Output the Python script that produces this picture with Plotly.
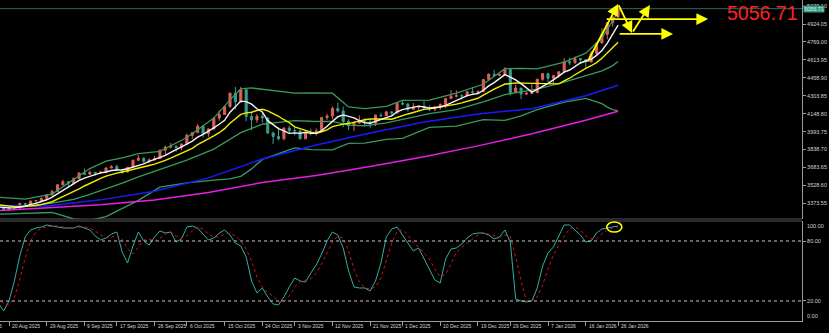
import numpy as np
import plotly.graph_objects as go

# ---------------- data ----------------
first_bar = "2025-08-18"          # first daily bar on the chart (partly off-screen)

opens = [3336,3332,3316,3348,3339,3372,3366,3393,3397,3416,
         3448,3476,3533,3560,3545,3587,3636,3625,3641,3634,
         3643,3679,3690,3660,3644,3685,3746,3763,3736,3749,
         3760,3833,3859,3866,3856,3886,3961,3985,4040,3976,
         4017,4110,4142,4209,4326,4251,4356,4125,4095,4126,
         4112,3982,3951,3931,4024,4002,4000,3931,3981,3977,
         4000,4115,4128,4194,4172,4081,4045,4067,4078,4077,
         4065,4135,4131,4164,4155,4239,4232,4186,4205,4208,
         4198,4188,4207,4228,4279,4300,4304,4302,4338,4332,
         4339,4444,4490,4480,4486,4532,4332,4370,4318,4325,
         4330,4446,4495,4455,4478,4510,4598,4588,4625,4615,
         4595,4670,4760,4835,4935,4985]
highs = [3359,3345,3351,3351,3379,3376,3394,3398,3423,3454,
         3490,3540,3578,3563,3600,3640,3674,3658,3645,3655,
         3685,3703,3707,3665,3687,3750,3791,3770,3761,3783,
         3835,3872,3895,3875,3889,3977,3990,4059,4045,4022,
         4117,4179,4218,4330,4380,4381,4358,4161,4146,4162,
         4117,3993,4030,4030,4045,4030,4004,3991,4020,4020,
         4120,4148,4212,4245,4211,4100,4082,4133,4110,4098,
         4141,4156,4174,4168,4241,4264,4240,4241,4218,4259,
         4219,4218,4238,4286,4353,4350,4317,4345,4375,4350,
         4448,4497,4526,4493,4550,4535,4398,4372,4335,4402,
         4451,4500,4501,4481,4518,4630,4634,4643,4628,4622,
         4690,4766,4888,4940,4990,5092]
lows = [3323,3311,3312,3325,3321,3351,3351,3376,3385,3408,
        3436,3470,3527,3511,3536,3580,3620,3620,3614,3633,
        3633,3675,3655,3628,3640,3683,3737,3718,3722,3741,
        3758,3793,3847,3820,3834,3884,3931,3984,3944,3947,
        4005,4086,4138,4202,4185,4242,4082,4004,4070,4073,
        3971,3886,3918,3918,3975,3961,3928,3930,3962,3960,
        3995,4095,4098,4157,4032,4005,3997,4060,4038,4022,
        4041,4120,4130,4137,4150,4221,4167,4185,4176,4193,
        4170,4170,4180,4196,4276,4288,4270,4300,4309,4320,
        4336,4432,4466,4474,4478,4305,4330,4275,4310,4316,
        4328,4432,4422,4408,4460,4508,4570,4580,4580,4538,
        4595,4660,4760,4792,4900,4975]
closes = [3332,3316,3348,3339,3372,3366,3393,3397,3416,3448,
          3476,3533,3560,3545,3587,3636,3625,3641,3634,3643,
          3679,3690,3660,3644,3685,3746,3763,3736,3749,3760,
          3833,3859,3866,3856,3886,3961,3985,4040,3976,4017,
          4110,4142,4209,4326,4251,4356,4125,4095,4126,4112,
          3982,3951,3931,4024,4002,4000,3931,3981,3977,4000,
          4115,4128,4194,4172,4081,4045,4067,4078,4077,4065,
          4135,4131,4164,4155,4239,4232,4186,4205,4208,4198,
          4188,4207,4228,4279,4300,4304,4302,4338,4332,4339,
          4444,4490,4480,4486,4532,4332,4370,4318,4325,4330,
          4446,4495,4455,4478,4510,4598,4588,4625,4615,4595,
          4670,4760,4835,4935,4985,5056.71]

# fast moving average (white)
ma_fast = [3342,3335,3334,3334,3341,3348,3364,3373,3389,3404,
           3426,3454,3487,3512,3540,3572,3591,3607,3625,3636,
           3644,3657,3661,3663,3672,3685,3700,3715,3736,3751,
           3768,3787,3813,3835,3860,3886,3911,3946,3970,3996,
           4026,4057,4091,4161,4208,4257,4253,4231,4191,4163,
           4088,4053,4020,4000,3978,3982,3978,3988,3978,3978,
           4001,4040,4083,4122,4138,4124,4112,4089,4070,4066,
           4084,4097,4114,4130,4165,4184,4195,4203,4214,4206,
           4197,4201,4206,4220,4240,4264,4283,4305,4315,4323,
           4351,4389,4417,4448,4486,4464,4440,4408,4375,4335,
           4358,4383,4410,4441,4477,4507,4526,4560,4587,4604,
           4619,4653,4695,4759,4837,4914]
# slower moving average (yellow)
ma_slow = [3360,3353,3351,3345,3343,3345,3350,3354,3362,3373,
           3387,3409,3430,3451,3472,3499,3523,3547,3569,3588,
           3608,3624,3634,3644,3654,3665,3679,3688,3700,3712,
           3727,3744,3764,3786,3806,3827,3849,3880,3903,3928,
           3956,3984,4019,4066,4102,4142,4155,4161,4176,4186,
           4173,4153,4126,4096,4071,4035,4016,4004,3989,3978,
           3992,4009,4036,4050,4058,4063,4076,4086,4096,4102,
           4104,4105,4102,4100,4116,4134,4146,4159,4172,4186,
           4191,4198,4205,4217,4223,4231,4242,4256,4268,4282,
           4308,4336,4361,4382,4405,4408,4415,4413,4412,4411,
           4411,4412,4409,4408,4406,4433,4455,4485,4514,4541,
           4563,4590,4628,4673,4721,4767]

# Bollinger bands (green), read at these dates
bb_dates = ["2025-08-18","2025-08-25","2025-09-01","2025-09-05","2025-09-10",
            "2025-09-15","2025-09-18","2025-09-23","2025-09-29","2025-10-06",
            "2025-10-13","2025-10-16","2025-10-20","2025-10-22","2025-10-24",
            "2025-10-29","2025-11-03","2025-11-06","2025-11-12","2025-11-17",
            "2025-11-20","2025-11-26","2025-12-01","2025-12-08","2025-12-15",
            "2025-12-22","2025-12-26","2025-12-31","2026-01-05","2026-01-12",
            "2026-01-16","2026-01-21","2026-01-22","2026-01-23","2026-01-26"]
bb_mid = [3353,3348,3374,3408,3451,3498,3548,3601,3668,3746,3842,3926,3985,4021,4057,
          4073,4089,4083,4081,4049,4043,4069,4099,4148,4183,4250,4314,4335,4360,4421,
          4476,4519,4541,4564,4600]
bb_upper = [3426,3410,3453,3576,3674,3738,3767,3803,3823,3942,4110,4268,4363,4371,4361,
            4344,4326,4329,4326,4207,4193,4211,4263,4266,4326,4403,4538,4540,4536,4594,
            4672,4803,4877,4944,5028]
bb_lower = [3280,3286,3294,3238,3226,3258,3327,3399,3513,3550,3574,3584,3607,3671,3753,
            3802,3852,3837,3836,3891,3893,3927,3935,4030,4040,4097,4090,4130,4184,4248,
            4280,4235,4205,4184,4172]

# long moving averages (blue, magenta)
long_ma_dates = ["2025-08-18","2025-08-29","2025-09-12","2025-09-26","2025-10-10",
                 "2025-10-24","2025-11-07","2025-11-21","2025-12-05","2025-12-19",
                 "2026-01-02","2026-01-16","2026-01-26"]
ma_blue = [3350,3351,3403,3477,3593,3757,3878,3981,4076,4146,4192,4304,4394]
ma_magenta = [3310,3334,3360,3402,3467,3553,3614,3691,3776,3870,3974,4091,4170]

# stochastic oscillator
stoch_k = [18,10,20,40,65,84,91,93,94,96,
           95,94,93,93,93,95,93,91,85,81,
           83,87,89,69,58,75,89,80,76,84,
           90,88,89,79,82,94,95,93,87,81,
           83,88,91,86,78,75,64,40,28,33,
           24,17,16,24,34,43,40,39,48,56,
           67,80,89,86,73,50,34,33,33,30,
           40,58,84,92,94,86,79,70,73,62,
           52,41,38,62,72,73,77,83,87,88,
           88,86,82,84,91,79,22,20,19,20,
           33,55,68,74,85,96,96,91,86,79,
           80,88,92,93,94,95]
stoch_d = [25,17,16,23,42,63,80,89,93,94,
           95,95,94,93,93,94,94,93,90,86,
           83,84,86,82,72,67,74,81,82,80,
           83,87,89,85,83,85,90,94,92,87,
           84,84,87,88,85,80,72,60,44,34,
           28,25,19,19,25,34,39,41,42,48,
           57,68,79,85,83,70,52,39,33,32,
           34,43,61,78,90,91,86,78,74,68,
           62,52,44,47,57,69,74,78,82,86,
           88,87,85,84,86,85,64,40,20,20,
           24,36,52,66,76,85,92,94,91,85,
           82,82,87,91,93,94]
stoch_levels = [80, 20]

price_ticks = [5079.10, 4924.05, 4769.00, 4613.95, 4458.90, 4303.85, 4148.80,
               3993.75, 3838.70, 3683.65, 3528.60, 3373.55]
date_ticks = ["2025-08-11","2025-08-20","2025-08-29","2025-09-09","2025-09-17","2025-09-26",
              "2025-10-06","2025-10-15","2025-10-24","2025-11-03","2025-11-12","2025-11-21",
              "2025-12-01","2025-12-10","2025-12-19","2025-12-29","2026-01-07","2026-01-16",
              "2026-01-26"]
date_tick_labels = ["11 Aug 2025","20 Aug 2025","29 Aug 2025","9 Sep 2025","17 Sep 2025",
                    "26 Sep 2025","6 Oct 2025","15 Oct 2025","24 Oct 2025","3 Nov 2025",
                    "12 Nov 2025","21 Nov 2025","1 Dec 2025","10 Dec 2025","19 Dec 2025",
                    "29 Dec 2025","7 Jan 2026","16 Jan 2026","26 Jan 2026"]
last_price = 5056.71

# ---------------- helpers ----------------
def bar_of(d):
    return int(np.busday_count(first_bar, d))

bars = list(range(len(closes)))
X_RANGE = [0.33, 149.12]
Y_RANGE = [3237.7, 5131.6]

UP = "#e0605a"
DN = "#3a9e8c"
GREEN = "#3a9a5c"
AXC = "#9a9a9a"
TXT = "#d4d4d4"
FONT = "Liberation Sans"

fig = go.Figure()

fig.add_trace(go.Candlestick(
    x=bars, open=opens, high=highs, low=lows, close=closes,
    increasing=dict(line=dict(color=UP, width=1), fillcolor=UP),
    decreasing=dict(line=dict(color=DN, width=1), fillcolor=DN),
    whiskerwidth=0, xaxis="x", yaxis="y", hoverinfo="skip", showlegend=False))

bbx = [bar_of(d) for d in bb_dates]
for ys in (bb_upper, bb_mid, bb_lower):
    fig.add_trace(go.Scatter(x=bbx, y=ys, mode="lines", line=dict(color=GREEN, width=1.3),
                             xaxis="x", yaxis="y", hoverinfo="skip", showlegend=False))

lx = [bar_of(d) for d in long_ma_dates]
fig.add_trace(go.Scatter(x=lx, y=ma_blue, mode="lines", line=dict(color="#1a1aff", width=1.5),
                         xaxis="x", yaxis="y", hoverinfo="skip", showlegend=False))
fig.add_trace(go.Scatter(x=lx, y=ma_magenta, mode="lines", line=dict(color="#e61ee6", width=1.5),
                         xaxis="x", yaxis="y", hoverinfo="skip", showlegend=False))
fig.add_trace(go.Scatter(x=bars, y=ma_slow, mode="lines", line=dict(color="#f0f000", width=1.4),
                         xaxis="x", yaxis="y", hoverinfo="skip", showlegend=False))
fig.add_trace(go.Scatter(x=bars, y=ma_fast, mode="lines", line=dict(color="#f4f4f4", width=1.4),
                         xaxis="x", yaxis="y", hoverinfo="skip", showlegend=False))

fig.add_trace(go.Scatter(x=bars, y=stoch_k, mode="lines", line=dict(color="#2fb0a6", width=1),
                         xaxis="x", yaxis="y2", hoverinfo="skip", showlegend=False))
fig.add_trace(go.Scatter(x=bars, y=stoch_d, mode="lines",
                         line=dict(color="#e01010", width=1, dash="dot"),
                         xaxis="x", yaxis="y2", hoverinfo="skip", showlegend=False))

shapes = []
# bid line
shapes.append(dict(type="line", xref="paper", yref="y", x0=0, x1=1, y0=last_price, y1=last_price,
                   line=dict(color="#1f6e5c", width=1)))
# stochastic levels
for lv in stoch_levels:
    shapes.append(dict(type="line", xref="paper", yref="y2", x0=0, x1=1, y0=lv, y1=lv,
                       line=dict(color="#c8c8c8", width=1, dash="dot")))
# panel separator
for yy in (0.3178, 0.3115):
    shapes.append(dict(type="line", xref="paper", yref="paper", x0=0, x1=1, y0=yy, y1=yy,
                       line=dict(color="#555555", width=1)))
# yellow ellipse on the stochastic
shapes.append(dict(type="circle", xref="x", yref="y2", x0=112.9, x1=115.7, y0=89, y1=99,
                   line=dict(color="#ffff00", width=1.6)))

annotations = []
# yellow arrows (hand drawings)
arrows = [((109.2, 4587), (115.0, 5097)),
          ((115.0, 5097), (117.6, 4846)),
          ((117.6, 4846), (120.9, 5088)),
          ((112.6, 4967), (131.7, 4967)),
          ((115.0, 4838), (125.2, 4838))]
for (tx, ty), (hx, hy) in arrows:
    annotations.append(dict(x=hx, y=hy, ax=tx, ay=ty, xref="x", yref="y", axref="x", ayref="y",
                            text="", showarrow=True, arrowhead=2, arrowsize=1.3, arrowwidth=1.8,
                            arrowcolor="#ffff00"))
# big red price text
annotations.append(dict(xref="paper", yref="paper", x=0.9975, y=0.9595, xanchor="right",
                        yanchor="middle", text=f"{last_price:.2f}", showarrow=False,
                        font=dict(family=FONT, size=19.5, color="#ff2020")))
# current price box on axis
annotations.append(dict(xref="paper", yref="y", x=1, y=last_price, xanchor="left", yanchor="middle",
                        xshift=1, text=f"{last_price:.2f}", showarrow=False, bgcolor="#2f9c84",
                        borderpad=0, font=dict(family=FONT, size=5.5, color="#e8e8e8")))
# stochastic 100 / 0 labels
annotations.append(dict(xref="paper", yref="y2", x=1, y=100, xanchor="left", yanchor="top",
                        xshift=3, text="100.00", showarrow=False,
                        font=dict(family=FONT, size=5.5, color=TXT)))
annotations.append(dict(xref="paper", yref="y2", x=1, y=0, xanchor="left", yanchor="bottom",
                        xshift=3, text="0.00", showarrow=False,
                        font=dict(family=FONT, size=5.5, color=TXT)))
# date labels
for d, lab in zip(date_ticks, date_tick_labels):
    fx = (bar_of(d) - X_RANGE[0]) / (X_RANGE[1] - X_RANGE[0])
    annotations.append(dict(xref="paper", yref="paper", x=fx, y=-0.0156, xanchor="left",
                            yanchor="middle", xshift=1, text=lab, showarrow=False,
                            font=dict(family=FONT, size=5, color=TXT)))

fig.update_layout(
    width=829, height=333,
    margin=dict(l=0, r=27, t=0, b=12),
    paper_bgcolor="#000000", plot_bgcolor="#000000",
    showlegend=False, boxgap=0.45,
    shapes=shapes, annotations=annotations,
    xaxis=dict(range=X_RANGE, anchor="y2", showgrid=False, zeroline=False,
               rangeslider=dict(visible=False), showline=True, linecolor=AXC, linewidth=1,
               ticks="outside", ticklen=4, tickcolor=AXC,
               tickvals=[bar_of(d) for d in date_ticks], showticklabels=False),
    yaxis=dict(domain=[0.3178, 1], range=Y_RANGE, side="right", showgrid=False, zeroline=False,
               showline=True, linecolor=AXC, linewidth=1, ticks="outside", ticklen=3,
               tickcolor=AXC, tickvals=price_ticks, ticktext=[f"{v:.2f}" for v in price_ticks],
               tickfont=dict(family=FONT, size=5.5, color=TXT)),
    yaxis2=dict(domain=[0, 0.3115], range=[0, 100], side="right", anchor="x", showgrid=False,
                zeroline=False, showline=True, linecolor=AXC, linewidth=1, ticks="outside",
                ticklen=3, tickcolor=AXC, tickvals=stoch_levels,
                ticktext=[f"{v:.2f}" for v in stoch_levels],
                tickfont=dict(family=FONT, size=5.5, color=TXT)),
)

fig.write_html("out.html")
